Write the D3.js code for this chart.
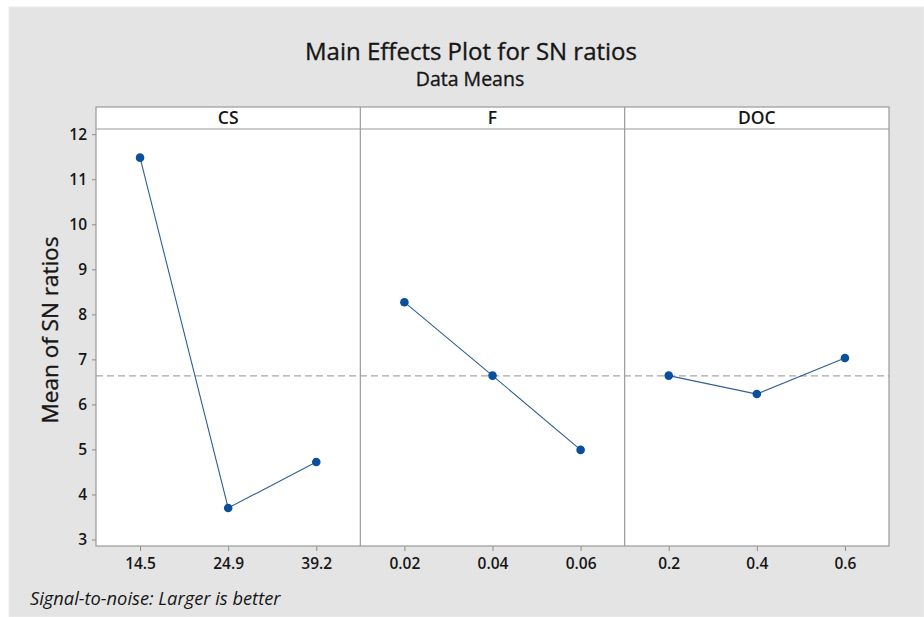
<!DOCTYPE html>
<html>
<head>
<meta charset="utf-8">
<script src="https://cdn.jsdelivr.net/npm/d3@7"></script>
<style>
  html, body { margin: 0; padding: 0; background: #ffffff; }
  svg { display: block; }
  text { font-family: "Open Sans", "Noto Sans", sans-serif; fill: #161616; }
  .heavy { stroke: #161616; stroke-width: 0.35px; }
</style>
</head>
<body>
<svg id="chart" width="924" height="617"></svg>
<script>
// Factors and their level labels
const factors = ["CS", "F", "DOC"];
const csLevels = ["14.5", "24.9", "39.2"];
const fLevels = ["0.02", "0.04", "0.06"];
const docLevels = ["0.2", "0.4", "0.6"];

// Mean SN ratio at each level
const csMeans = [11.48, 3.70, 4.72];
const fMeans = [8.27, 6.64, 4.99];
const docMeans = [6.64, 6.23, 7.03];

// Y axis ticks
const yTicks = [3, 4, 5, 6, 7, 8, 9, 10, 11, 12];

const levels = [csLevels, fLevels, docLevels];
const means = [csMeans, fMeans, docMeans];
const grandMean = d3.mean(csMeans.concat(fMeans, docMeans));

const W = 924, H = 617;
const svg = d3.select("#chart");

// Figure background with thin white margin
svg.append("rect").attr("x", 0).attr("y", 0).attr("width", W).attr("height", H).attr("fill", "#ffffff");
svg.append("rect").attr("x", 9).attr("y", 7).attr("width", W - 9).attr("height", H - 7)
  .attr("fill", "#e4e4e4").attr("stroke", "#ececec").attr("stroke-width", 1);

const plotLeft = 96, plotRight = 889;
const headTop = 107, plotTop = 129, plotBottom = 546;

const panelX = d3.scaleBand().domain(factors).range([plotLeft, plotRight]).padding(0);
const y = d3.scaleLinear().domain([2.856, 12.116]).range([plotBottom, plotTop]);

// Titles
svg.append("text").attr("class", "heavy").attr("x", 471).attr("y", 60).attr("text-anchor", "middle")
  .style("font-size", "24px").text("Main Effects Plot for SN ratios");
svg.append("text").attr("class", "heavy").attr("x", 470).attr("y", 86).attr("text-anchor", "middle")
  .style("font-size", "19.5px").text("Data Means");

// Panel white area
svg.append("rect").attr("x", plotLeft).attr("y", headTop).attr("width", plotRight - plotLeft)
  .attr("height", plotBottom - headTop).attr("fill", "#ffffff");

// Grand mean reference line
svg.append("line").attr("x1", plotLeft).attr("x2", plotRight)
  .attr("y1", y(grandMean)).attr("y2", y(grandMean))
  .attr("stroke", "#a8a8a8").attr("stroke-width", 1.2).attr("stroke-dasharray", "7,4");

factors.forEach((f, i) => {
  const x0 = panelX(f), bw = panelX.bandwidth();
  const x = d3.scalePoint().domain(levels[i]).range([x0, x0 + bw]).padding(0.5);
  const g = svg.append("g");

  // Header label
  g.append("text").attr("x", x0 + bw / 2).attr("y", 124).attr("text-anchor", "middle")
    .style("font-size", "17.5px").style("font-weight", 600).text(f);

  // Bottom axis for the panel
  const ax = g.append("g").attr("transform", `translate(0,${plotBottom})`)
    .call(d3.axisBottom(x).tickSize(5).tickPadding(7));
  ax.select(".domain").remove();
  ax.selectAll(".tick line").attr("stroke", "#8c8c8c");
  ax.selectAll(".tick text").style("font-size", "15.5px").style("font-weight", 600)
    .style("font-family", "\"Open Sans\", sans-serif").attr("fill", "#222");

  // Connecting line and points
  const pts = levels[i].map((l, k) => [x(l), y(means[i][k])]);
  g.append("path").attr("d", d3.line()(pts)).attr("fill", "none")
    .attr("stroke", "#2f5f93").attr("stroke-width", 1.1);
  g.selectAll("circle").data(pts).join("circle")
    .attr("cx", d => d[0]).attr("cy", d => d[1]).attr("r", 4.3).attr("fill", "#0a4f9c");
});

// Frame: outer border, header separator, panel dividers
const frame = svg.append("g").attr("fill", "none").attr("stroke", "#9a9a9a").attr("stroke-width", 1.2);
frame.append("rect").attr("x", plotLeft).attr("y", headTop)
  .attr("width", plotRight - plotLeft).attr("height", plotBottom - headTop);
frame.append("line").attr("x1", plotLeft).attr("x2", plotRight).attr("y1", plotTop).attr("y2", plotTop);
factors.slice(1).forEach(f => {
  frame.append("line").attr("x1", panelX(f)).attr("x2", panelX(f)).attr("y1", headTop).attr("y2", plotBottom);
});

// Left axis
const yAx = svg.append("g").attr("transform", `translate(${plotLeft},0)`)
  .call(d3.axisLeft(y).tickValues(yTicks).tickSize(4).tickPadding(5));
yAx.select(".domain").remove();
yAx.selectAll(".tick line").attr("stroke", "#8c8c8c");
yAx.selectAll(".tick text").style("font-size", "15.5px").style("font-weight", 600)
  .style("font-family", "\"Open Sans\", sans-serif").attr("fill", "#222");

// Y axis title
svg.append("text").attr("class", "heavy").attr("transform", "translate(58,330) rotate(-90)")
  .attr("text-anchor", "middle").style("font-size", "22.5px")
  .text("Mean of SN ratios");

// Footnote
svg.append("text").attr("x", 30).attr("y", 605)
  .style("font-size", "18.3px").style("font-style", "italic")
  .attr("fill", "#2a2a2a").text("Signal-to-noise: Larger is better");
</script>
</body>
</html>
